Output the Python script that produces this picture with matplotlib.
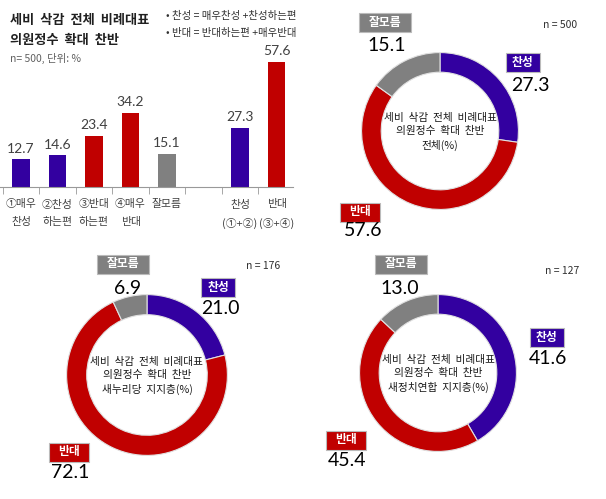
import matplotlib.pyplot as plt
from matplotlib.patches import Rectangle

plt.rcParams['font.family'] = ['Noto Sans CJK KR', 'DejaVu Sans']

# bar chart data
bar_labels = ['①매우\n찬성', '②찬성\n하는편', '③반대\n하는편', '④매우\n반대', '잘모름', '', '찬성\n(①+②)', '반대\n(③+④)']
bar_values = [12.7, 14.6, 23.4, 34.2, 15.1, None, 27.3, 57.6]
bar_kinds = ['pro', 'pro', 'con', 'con', 'dk', None, 'pro', 'con']

# donut data: 찬성, 반대, 잘모름
donut_names = ['찬성', '반대', '잘모름']
donut_total = [27.3, 57.6, 15.1]
donut_saenuri = [21.0, 72.1, 6.9]
donut_npad = [41.6, 45.4, 13.0]
donut_titles = ['전체(%)', '새누리당  지지층(%)', '새정치연합  지지층(%)']
donut_n = ['n = 500', 'n = 176', 'n = 127']

BLUE = '#3300A0'
RED = '#C00000'
GRAY = '#808080'
colors = {'pro': BLUE, 'con': RED, 'dk': GRAY}

W, H = 606, 499
fig = plt.figure(figsize=(W / 100, H / 100), dpi=100)


def fx(x):
    return x / W


def fy(y):
    return 1 - y / H


# ---- bar chart ----
ax = fig.add_axes([fx(0), fy(187), fx(293), (187 - 50) / H])
xs = [i for i, v in enumerate(bar_values) if v is not None]
vals = [v for v in bar_values if v is not None]
cols = [colors[k] for k in bar_kinds if k is not None]
ax.bar(xs, vals, width=0.47, color=cols)
for x, v in zip(xs, vals):
    ax.text(x, v + 2.2, f'{v:.1f}', ha='center', va='bottom', fontsize=10,
            color='#404040', family=['Lato', 'DejaVu Sans'])
ax.set_xlim(-0.575, 7.45)
ax.set_ylim(0, 137 / 2.17)
for s in ['top', 'right', 'left']:
    ax.spines[s].set_visible(False)
ax.spines['bottom'].set_color('#999999')
ax.set_yticks([])
ax.set_xticks(range(len(bar_labels)))
ax.set_xticklabels(bar_labels, fontsize=7.8, color='#404040', linespacing=1.9)
ax.tick_params(axis='x', which='major', length=0, pad=9)
ax.set_xticks([i + 0.5 for i in range(-1, 7)], minor=True)
ax.tick_params(axis='x', which='minor', length=5, color='#999999')

fig.text(fx(10), fy(20), '세비  삭감  전체  비례대표', fontsize=9.5, weight='bold',
         va='center', color='#202020')
fig.text(fx(10), fy(40), '의원정수  확대  찬반', fontsize=9.5, weight='bold',
         va='center', color='#202020')
fig.text(fx(10), fy(58), 'n= 500, 단위: %', fontsize=7.5, va='center', color='#606060')
fig.text(fx(166), fy(16), '• 찬성 = 매우찬성 +찬성하는편', fontsize=7.5, va='center', color='#303030')
fig.text(fx(166), fy(33), '• 반대 = 반대하는편 +매우반대', fontsize=7.5, va='center', color='#303030')

# ---- donuts ----
overlay = fig.add_axes([0, 0, 1, 1], zorder=5)
overlay.set_xlim(0, W)
overlay.set_ylim(H, 0)
overlay.axis('off')


def box_label(cx, cy, text, color, w, h=19):
    overlay.add_patch(Rectangle((cx - w / 2, cy - h / 2), w, h, facecolor=color,
                                edgecolor='#bbbbbb', linewidth=0.8))
    overlay.text(cx, cy, text, ha='center', va='center', color='white',
                 fontsize=8.5, weight='bold')


def number(cx, cy, v):
    overlay.text(cx, cy, f'{v:.1f}', ha='center', va='center', fontsize=14,
                 color='black', family=['Lato', 'DejaVu Sans'])


def donut(cx, cy, r, values, title, n_text, n_pos, labels_pos):
    dax = fig.add_axes([fx(cx - r), fy(cy + r), 2 * r / W, 2 * r / H])
    dax.pie(values, colors=[BLUE, RED, GRAY], startangle=90, counterclock=False,
            radius=1.0, wedgeprops=dict(width=0.25, edgecolor='#e0e0e0', linewidth=0.8))
    dax.set_xlim(-1.02, 1.02)
    dax.set_ylim(-1.02, 1.02)
    dax.axis('off')
    overlay.text(cx, cy + 1, '세비  삭감  전체  비례대표\n의원정수  확대  찬반\n' + title,
                 ha='center', va='center', fontsize=7.7, color='#1a1a1a', linespacing=1.4)
    overlay.text(n_pos[0], n_pos[1], n_text, ha='center', va='center', fontsize=7.5,
                 color='#303030')
    box_w = [34, 40, 52]
    cols_ = [BLUE, RED, GRAY]
    for i, (bx, by, nx, ny) in enumerate(labels_pos):
        box_label(bx, by, donut_names[i], cols_[i], box_w[i])
        number(nx, ny, values[i])


donut(440, 131, 80, donut_total, donut_titles[0], donut_n[0], (560, 25),
      [(523, 62, 530, 85), (360, 212, 363, 230), (385, 22, 387, 45)])
donut(147, 375, 82, donut_saenuri, donut_titles[1], donut_n[1], (263, 266),
      [(218, 287, 220, 308), (69, 452, 70, 473), (123, 264, 128, 288)])
donut(438, 373, 80, donut_npad, donut_titles[2], donut_n[2], (562, 271),
      [(547, 337, 548, 359), (346, 440, 347, 461), (401, 264, 400, 289)])

fig.savefig('out.png', dpi=100)
